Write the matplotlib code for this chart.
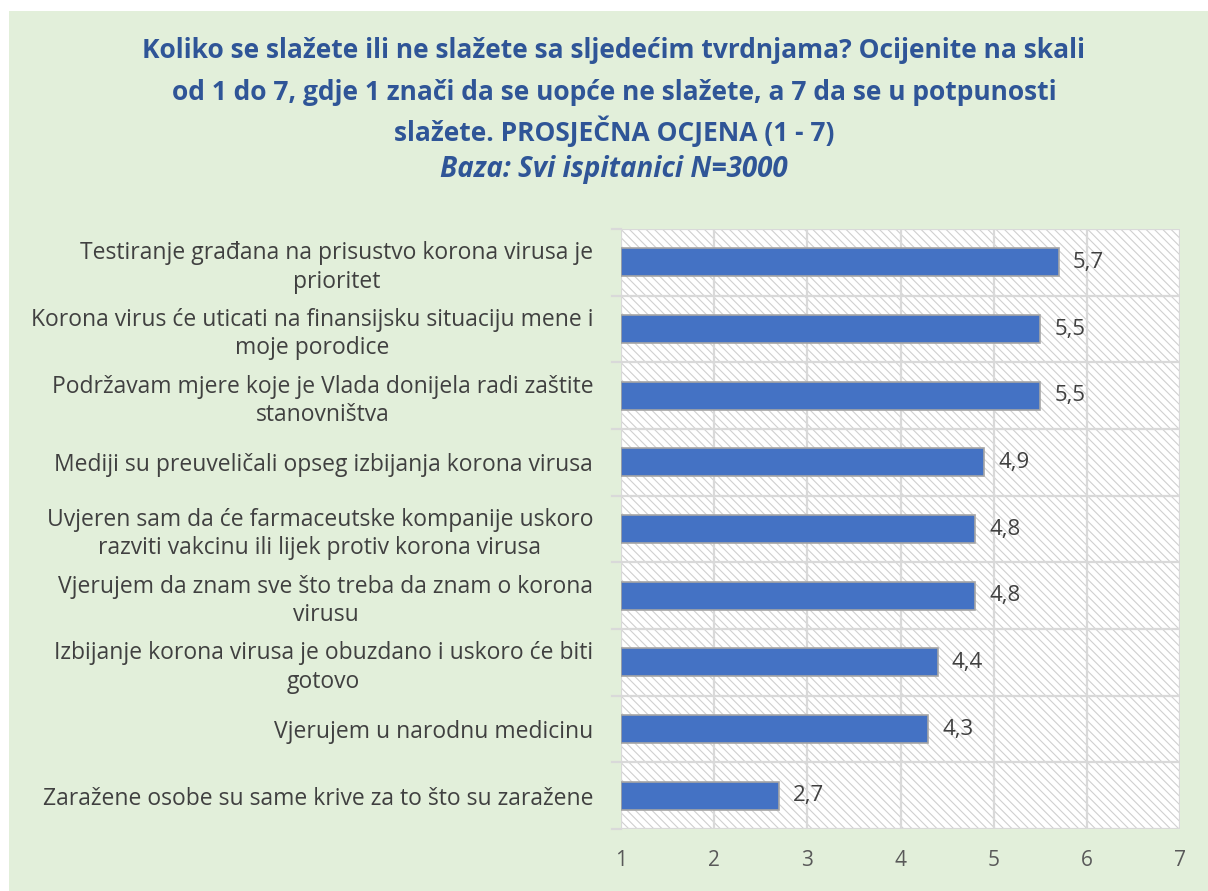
import matplotlib.pyplot as plt
from matplotlib.patches import Rectangle
import numpy as np

plt.rcParams['font.family'] = ['Open Sans', 'DejaVu Sans']
plt.rcParams['hatch.color'] = '#d0d0d0'
plt.rcParams['hatch.linewidth'] = 0.8

labels = [
	'Testiranje građana na prisustvo korona virusa je\nprioritet',
	'Korona virus će uticati na finansijsku situaciju mene i\nmoje porodice',
	'Podržavam mjere koje je Vlada donijela radi zaštite\nstanovništva',
	'Mediji su preuveličali opseg izbijanja korona virusa',
	'Uvjeren sam da će farmaceutske kompanije uskoro\nrazviti vakcinu ili lijek protiv korona virusa',
	'Vjerujem da znam sve što treba da znam o korona\nvirusu',
	'Izbijanje korona virusa je obuzdano i uskoro će biti\ngotovo',
	'Vjerujem u narodnu medicinu',
	'Zaražene osobe su same krive za to što su zaražene',
]
values = [5.7, 5.5, 5.5, 4.9, 4.8, 4.8, 4.4, 4.3, 2.7]
value_text = ['5,7', '5,5', '5,5', '4,9', '4,8', '4,8', '4,4', '4,3', '2,7']
xticks = [1, 2, 3, 4, 5, 6, 7]
title_lines = [
	'Koliko se slažete ili ne slažete sa sljedećim tvrdnjama? Ocijenite na skali',
	'od 1 do 7, gdje 1 znači da se uopće ne slažete, a 7 da se u potpunosti',
	'slažete. PROSJEČNA OCJENA (1 - 7)',
]
subtitle = 'Baza: Svi ispitanici N=3000'

green = '#e2efda'
blue = '#4472c4'
title_blue = '#2f5597'
grey_text = '#404040'

fig = plt.figure(figsize=(12.08, 8.91), dpi=100)
fig.patch.set_facecolor('white')
fig.patches.append(Rectangle((9 / 1208, 0), 1 - 9 / 1208, 1 - 11 / 891,
	transform=fig.transFigure, facecolor=green, edgecolor='none', zorder=-10))

ax = fig.add_axes([621 / 1208, 62 / 891, 559 / 1208, 600 / 891])
ax.set_facecolor('white')
ax.add_patch(Rectangle((0, 0), 1, 1, transform=ax.transAxes, facecolor='white',
	edgecolor='#d0d0d0', linewidth=0, hatch='\\\\\\\\', zorder=0))

n = len(values)
y = np.arange(n)
ax.barh(y, np.array(values) - 1, left=1, height=0.42, color=blue,
	edgecolor='#a5a5a5', linewidth=1.2, zorder=3)

for yi, v, t in zip(y, values, value_text):
	ax.text(v + 0.15, yi, t, va='center', ha='left', fontsize=16, color=grey_text, zorder=4)

ax.set_xlim(1, 7)
ax.set_ylim(n - 0.5, -0.5)
ax.set_xticks(xticks)
ax.set_xticklabels([str(x) for x in xticks], fontsize=15, color='#595959')
ax.set_yticks(y)
ax.set_yticklabels(labels, fontsize=16.5, color=grey_text, multialignment='center',
	linespacing=1.25)
ax.tick_params(axis='x', length=0, pad=15)
ax.tick_params(axis='y', length=0, pad=20)

for b in np.arange(-0.5, n, 1.0):
	ax.axhline(b, color='#d9d9d9', linewidth=1.6, zorder=1)
	ax.plot([-0.016, 0], [b, b], transform=ax.get_yaxis_transform(), color='#d9d9d9',
		linewidth=1.6, clip_on=False, zorder=1)
for xv in xticks:
	ax.axvline(xv, color='#d9d9d9', linewidth=1.6, zorder=1)
for s in ax.spines.values():
	s.set_visible(False)

for ty, line in zip([50, 92, 131], title_lines):
	fig.text(614 / 1208, 1 - ty / 891, line, ha='center', va='center', fontsize=19,
		fontweight='bold', color=title_blue)
fig.text(614 / 1208, 1 - 170 / 891, subtitle, ha='center', va='center',
	fontsize=20, fontweight='bold', fontstyle='italic', color=title_blue)

plt.savefig('out.png', dpi=100)
